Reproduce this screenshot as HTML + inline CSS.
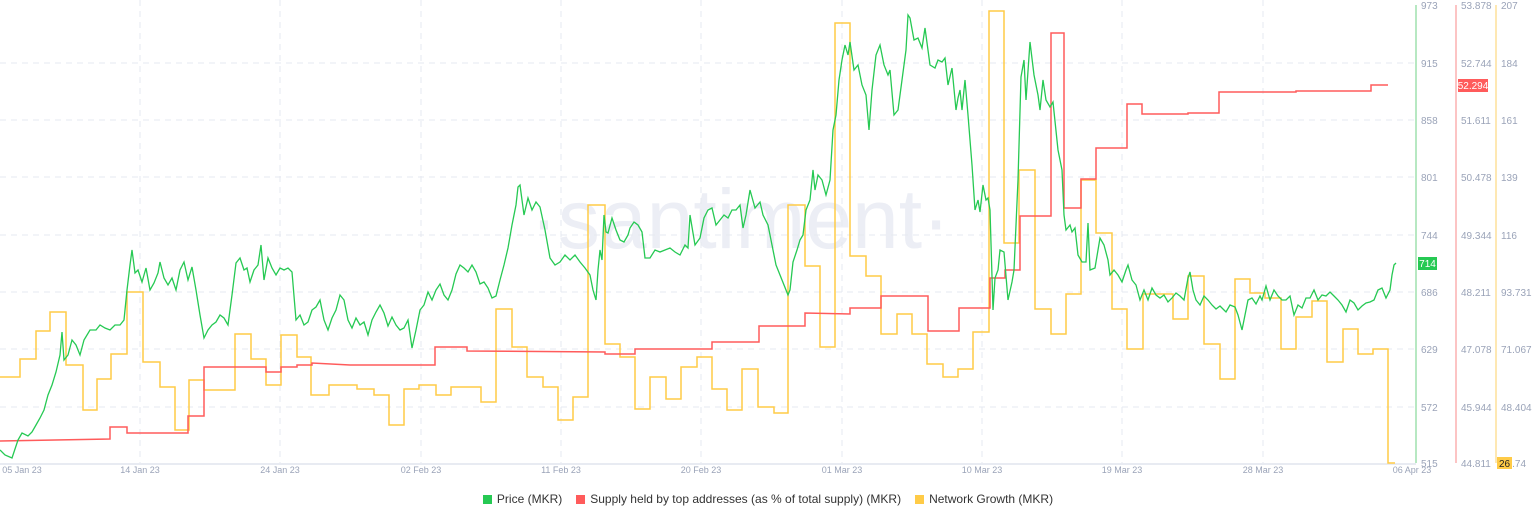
<!DOCTYPE html>
<html><head><meta charset="utf-8"><style>
html,body{margin:0;padding:0;background:#fff;width:1536px;height:520px;overflow:hidden;font-family:"Liberation Sans",sans-serif}
svg{position:absolute;left:0;top:0}
.legend{position:absolute;top:492px;left:0;width:1536px;display:flex;justify-content:center;gap:14px;font-size:12px;color:#333}
.legend span{display:flex;align-items:center}
.legend i{display:inline-block;width:9px;height:9px;margin-right:5px}
</style></head><body>
<svg width="1536" height="520" viewBox="0 0 1536 520">
<text x="740" y="248" text-anchor="middle" font-family="Liberation Sans,sans-serif" font-size="84" fill="#eceef5">·santiment·</text>
<g stroke="#e6e9f0" stroke-width="1" stroke-dasharray="6,5">
<line x1="0" y1="63" x2="1415" y2="63"/><line x1="0" y1="120" x2="1415" y2="120"/><line x1="0" y1="177" x2="1415" y2="177"/><line x1="0" y1="235" x2="1415" y2="235"/><line x1="0" y1="292" x2="1415" y2="292"/><line x1="0" y1="349" x2="1415" y2="349"/><line x1="0" y1="407" x2="1415" y2="407"/>
<line x1="140" y1="0" x2="140" y2="463"/><line x1="280" y1="0" x2="280" y2="463"/><line x1="421" y1="0" x2="421" y2="463"/><line x1="561" y1="0" x2="561" y2="463"/><line x1="701" y1="0" x2="701" y2="463"/><line x1="842" y1="0" x2="842" y2="463"/><line x1="982" y1="0" x2="982" y2="463"/><line x1="1122" y1="0" x2="1122" y2="463"/><line x1="1263" y1="0" x2="1263" y2="463"/>
</g>
<line x1="0" y1="464" x2="1416" y2="464" stroke="#e8ebf2" stroke-width="2"/>
<path fill="none" stroke="#ffcb47" stroke-width="1.5" d="M0 377H20V359H36V331H50V312H66V365H83V410H97V379H111V354H127V292H143V362H160V387H175V430H189V380H204V390H235V334H251V359H266V385H281V335H297V357H311V395H329V385H357V389H374V395H389V425H404V389H419V385H436V395H451V387H481V402H496V309H512V347H527V377H543V387H558V420H573V397H588V205H605V344H620V357H635V409H650V377H666V399H681V367H697V357H712V389H727V410H742V369H758V407H774V413H788V205H805V266H820V347H835V23H850V256H866V276H881V334H897V314H912V334H927V364H943V377H958V369H973V332H989V11H1004V243H1019V170H1035V309H1051V334H1066V294H1081V180H1096V233H1112V309H1127V349H1143V294H1173V319H1188V276H1204V344H1220V379H1235V279H1250V293H1265V298H1281V349H1296V317H1312V301H1327V362H1343V329H1358V354H1373V349H1388V463H1395"/>
<path fill="none" stroke="#ff5b5b" stroke-width="1.5" d="M0 441L110 439V427H127V433H188V416H204V367H266V372H281V367H297V365H312V363L350 365H435V347H467V351L605 352V354H635V349H712V342H759V326H805V313L850 314V308H881V296H928V331H959V308H990V278H1005V270H1020V216H1051V33H1064V208H1081V179H1096V148H1127V104H1142V114H1188V113H1219V92H1296V91H1371V85H1388"/>
<polyline fill="none" stroke="#26c953" stroke-width="1.3" points="0,450 5,455 12,458 18,440 22,433 28,436 32,432 36,425 40,418 44,410 48,395 52,385 56,372 60,355 62,332 64,360 68,355 72,340 76,345 80,355 84,340 90,330 96,330 100,325 105,328 110,330 115,325 120,325 124,320 127,290 130,265 132,250 135,273 138,270 142,282 146,268 150,290 154,283 158,273 160,262 164,278 168,285 172,278 176,290 180,270 184,262 188,280 192,267 196,290 200,315 204,338 208,330 212,325 216,322 220,315 224,318 228,325 232,295 236,263 240,258 244,270 247,268 250,282 254,270 258,265 261,245 264,280 268,258 272,268 276,275 280,268 284,270 288,268 292,272 296,320 300,315 304,325 308,322 312,310 316,307 320,300 324,320 328,330 332,318 336,310 340,295 344,300 348,320 352,328 356,318 360,325 364,322 368,335 372,320 376,312 380,305 384,313 388,326 392,317 396,325 400,330 404,328 408,320 412,348 416,330 420,310 424,305 428,292 432,300 436,290 440,284 444,295 448,300 452,290 456,274 460,265 464,268 468,272 472,265 476,272 480,284 484,282 488,288 492,298 496,296 500,280 504,265 508,248 512,225 516,205 518,187 520,185 524,215 528,198 532,210 536,202 540,207 545,230 550,258 555,265 560,262 565,255 570,260 575,255 580,262 585,268 590,275 593,290 596,300 598,270 600,250 602,260 604,215 606,232 608,233 612,218 616,230 620,240 624,242 628,235 630,228 634,222 638,225 642,232 645,258 650,258 655,250 660,252 665,250 670,248 675,252 680,255 685,245 688,248 690,215 695,245 700,238 704,218 708,210 712,208 716,225 720,220 724,215 728,218 732,210 736,210 740,205 743,228 746,215 750,190 755,208 760,202 763,215 768,225 772,245 776,265 780,275 784,285 788,295 790,290 793,262 797,250 800,240 803,235 806,210 810,200 813,170 815,190 818,175 822,180 826,195 830,180 833,130 836,115 839,80 842,60 845,45 848,55 850,42 854,70 858,65 862,85 866,95 869,130 872,90 876,55 880,45 884,65 888,75 890,70 894,115 898,110 902,80 906,50 908,15 910,18 914,40 918,38 922,48 925,28 930,65 935,68 938,60 942,62 945,58 948,85 952,68 956,110 958,98 960,90 962,110 965,80 968,115 972,165 975,210 978,200 980,212 983,185 986,200 988,198 990,210 993,310 995,278 998,270 1000,250 1004,252 1008,300 1012,282 1014,270 1018,180 1021,77 1024,60 1026,100 1030,42 1034,75 1038,95 1040,110 1043,80 1046,100 1050,107 1053,102 1058,150 1062,170 1064,215 1066,230 1070,225 1072,232 1075,228 1078,255 1082,262 1086,262 1088,223 1090,270 1095,268 1100,238 1104,245 1108,260 1110,275 1114,270 1118,275 1122,282 1126,270 1128,265 1132,280 1136,285 1140,300 1144,290 1148,300 1152,288 1156,295 1160,298 1164,295 1168,302 1172,298 1176,293 1180,296 1184,300 1188,278 1190,272 1193,290 1196,300 1200,305 1204,296 1208,300 1212,305 1216,309 1220,306 1224,310 1226,312 1230,305 1235,307 1238,315 1242,330 1245,315 1248,300 1252,298 1256,304 1260,296 1262,300 1266,286 1270,300 1274,290 1278,296 1282,300 1286,300 1290,296 1294,315 1298,305 1302,308 1306,298 1310,298 1314,290 1318,300 1322,295 1326,296 1330,292 1334,296 1338,300 1342,305 1346,312 1350,300 1354,303 1358,310 1362,306 1366,303 1370,302 1374,300 1378,290 1382,288 1386,298 1390,290 1392,275 1394,265 1396,263"/>
<line x1="1416" y1="5" x2="1416" y2="463" stroke="#9fe0ae" stroke-width="1.5"/>
<line x1="1456" y1="5" x2="1456" y2="463" stroke="#fbb0b0" stroke-width="1.5"/>
<line x1="1496" y1="5" x2="1496" y2="463" stroke="#fde09a" stroke-width="1.5"/>
<g font-size="10" fill="#9aa3b8" font-family="Liberation Sans,sans-serif">
<text x="1421" y="9">973</text><text x="1421" y="67">915</text><text x="1421" y="124">858</text><text x="1421" y="181">801</text><text x="1421" y="239">744</text><text x="1421" y="296">686</text><text x="1421" y="353">629</text><text x="1421" y="411">572</text><text x="1421" y="467">515</text>
<text x="1461" y="9">53.878</text><text x="1461" y="67">52.744</text><text x="1461" y="124">51.611</text><text x="1461" y="181">50.478</text><text x="1461" y="239">49.344</text><text x="1461" y="296">48.211</text><text x="1461" y="353">47.078</text><text x="1461" y="411">45.944</text><text x="1461" y="467">44.811</text>
<text x="1501" y="9">207</text><text x="1501" y="67">184</text><text x="1501" y="124">161</text><text x="1501" y="181">139</text><text x="1501" y="239">116</text><text x="1501" y="296">93.731</text><text x="1501" y="353">71.067</text><text x="1501" y="411">48.404</text><text x="1501" y="467">26.74</text>
</g>
<g font-size="9" fill="#9aa3b8" font-family="Liberation Sans,sans-serif" text-anchor="middle">
<text x="22" y="473">05 Jan 23</text><text x="140" y="473">14 Jan 23</text><text x="280" y="473">24 Jan 23</text><text x="421" y="473">02 Feb 23</text><text x="561" y="473">11 Feb 23</text><text x="701" y="473">20 Feb 23</text><text x="842" y="473">01 Mar 23</text><text x="982" y="473">10 Mar 23</text><text x="1122" y="473">19 Mar 23</text><text x="1263" y="473">28 Mar 23</text><text x="1412" y="473">06 Apr 23</text>
</g>
<rect x="1418" y="257" width="19" height="13" fill="#26c953"/>
<text x="1427.5" y="267" font-size="10" fill="#fff" text-anchor="middle" font-family="Liberation Sans,sans-serif">714</text>
<rect x="1458" y="79" width="30" height="13" fill="#ff5b5b"/>
<text x="1473" y="89" font-size="10" fill="#fff" text-anchor="middle" font-family="Liberation Sans,sans-serif">52.294</text>
<rect x="1497" y="457" width="15" height="12" fill="#ffcb47"/>
<text x="1504.5" y="467" font-size="10" fill="#222" text-anchor="middle" font-family="Liberation Sans,sans-serif">26</text>
</svg>
<div class="legend">
<span><i style="background:#26c953"></i>Price (MKR)</span>
<span><i style="background:#ff5b5b"></i>Supply held by top addresses (as % of total supply) (MKR)</span>
<span><i style="background:#ffcb47"></i>Network Growth (MKR)</span>
</div>
</body></html>
